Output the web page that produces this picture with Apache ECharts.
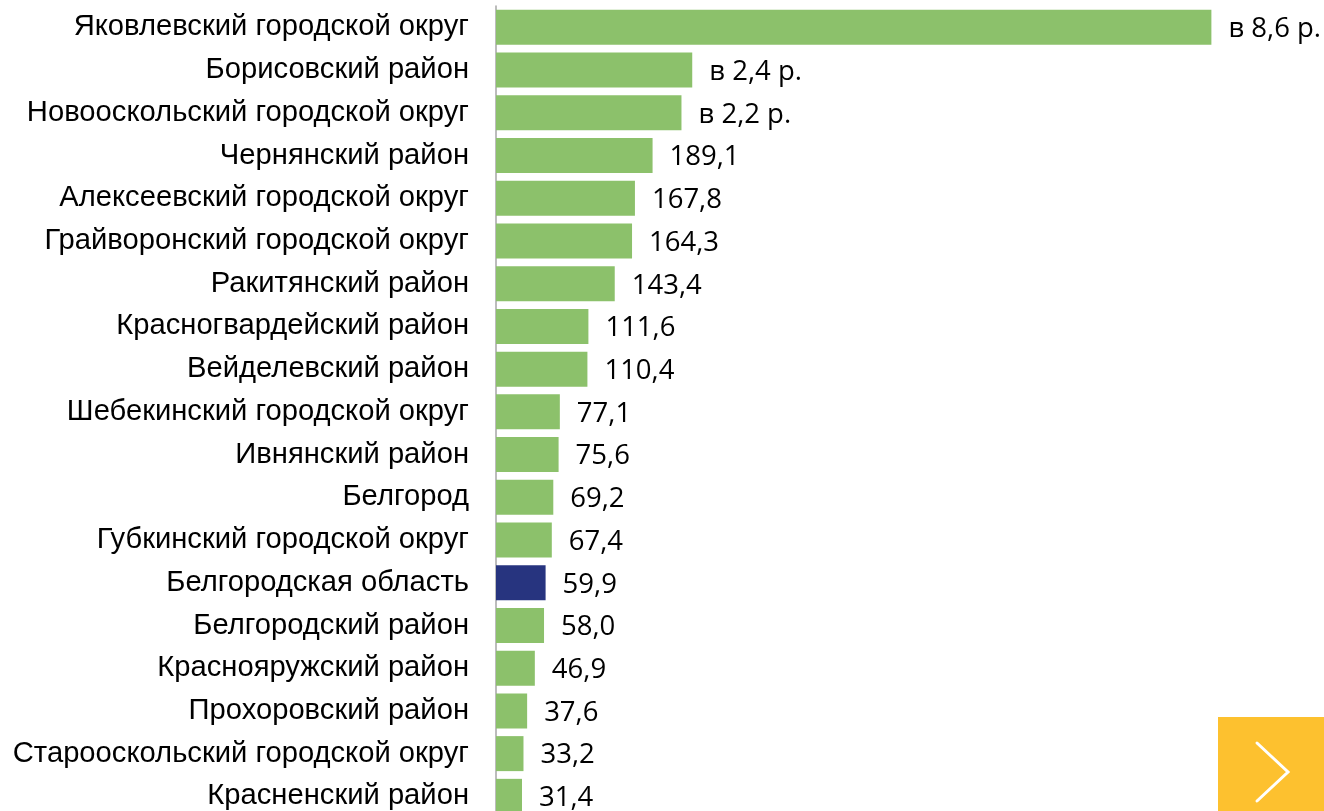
<!DOCTYPE html>
<html>
<head>
<meta charset="utf-8">
<script src="https://cdn.jsdelivr.net/npm/echarts@6/dist/echarts.min.js"></script>
<style>
  html, body { margin: 0; padding: 0; background: #fff; overflow: hidden; }
  #chart { width: 1324px; height: 830px; }
</style>
</head>
<body>
<div id="chart"></div>
<script>
const districts = [
  'Яковлевский городской округ',
  'Борисовский район',
  'Новооскольский городской округ',
  'Чернянский район',
  'Алексеевский городской округ',
  'Грайворонский городской округ',
  'Ракитянский район',
  'Красногвардейский район',
  'Вейделевский район',
  'Шебекинский городской округ',
  'Ивнянский район',
  'Белгород',
  'Губкинский городской округ',
  'Белгородская область',
  'Белгородский район',
  'Краснояружский район',
  'Прохоровский район',
  'Старооскольский городской округ',
  'Красненский район'
];
// values in %, the top three are shown as "in N times"
const values = [864, 237, 224, 189.1, 167.8, 164.3, 143.4, 111.6, 110.4, 77.1, 75.6, 69.2, 67.4, 59.9, 58.0, 46.9, 37.6, 33.2, 31.4];
const regionTotal = 'Белгородская область';

const green = '#8cc16b';
const blue = '#27347f';

const chart = echarts.init(document.getElementById('chart'));

function fmt(v) {
  if (v > 200) return 'в ' + (v / 100).toFixed(1).replace('.', ',') + ' р.';
  return v.toFixed(1).replace('.', ',');
}

chart.setOption({
  animation: false,
  grid: { left: 496, top: 6, width: 832, height: 811.7, containLabel: false },
  xAxis: {
    type: 'value',
    min: 0,
    max: 1000,
    show: false
  },
  yAxis: {
    type: 'category',
    inverse: true,
    data: districts,
    axisLine: { show: true, lineStyle: { color: '#a6a6a6', width: 1.5 } },
    axisTick: { show: false },
    axisLabel: {
      margin: 27,
      color: '#000',
      fontSize: 29.2,
      fontFamily: '"Liberation Sans", Arial, sans-serif'
    }
  },
  series: [{
    type: 'bar',
    barWidth: 35,
    data: values.map((v, i) => ({
      value: v,
      itemStyle: { color: districts[i] === regionTotal ? blue : green }
    })),
    label: {
      show: true,
      position: 'right',
      distance: 17,
      color: '#000',
      fontSize: 27.5,
      fontFamily: '"Open Sans", sans-serif',
      offset: [0, 2],
      formatter: (p) => fmt(p.value)
    }
  }],
  graphic: [
    {
      type: 'rect',
      shape: { x: 1218, y: 717, width: 110, height: 110 },
      style: { fill: '#fdc12f' }
    },
    {
      type: 'polyline',
      shape: { points: [[1257, 743], [1288, 772], [1257, 801]] },
      style: { stroke: '#fff', lineWidth: 3, lineCap: 'round', lineJoin: 'miter', fill: null }
    }
  ]
});

window.addEventListener('resize', () => chart.resize());
</script>
</body>
</html>
